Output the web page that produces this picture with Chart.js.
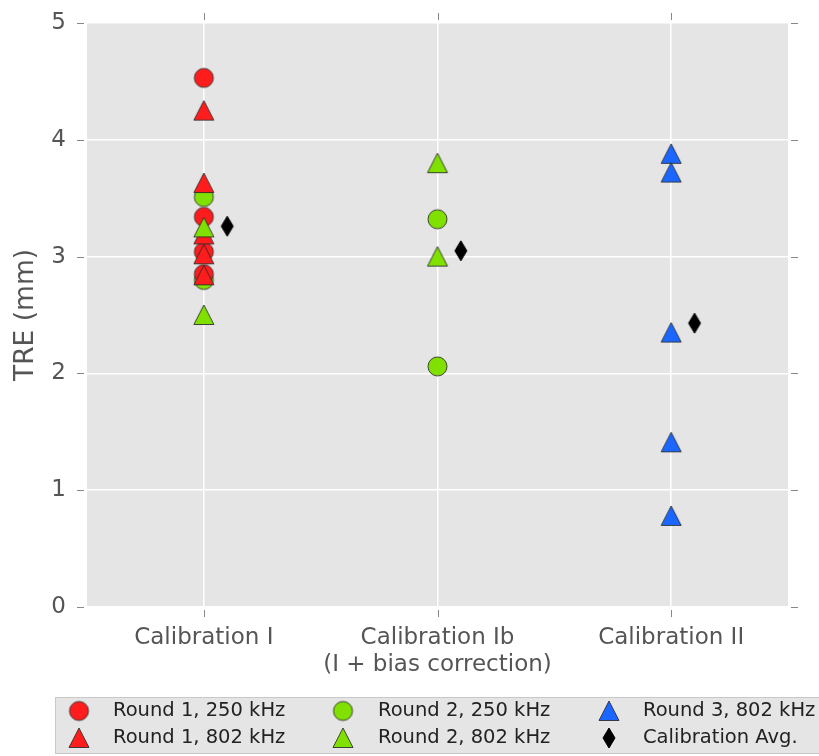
<!DOCTYPE html>
<html>
<head>
<meta charset="utf-8">
<script src="https://cdn.jsdelivr.net/npm/chart.js@4.4.0/dist/chart.umd.min.js"></script>
<style>
  html, body { margin: 0; padding: 0; background: #fff; }
</style>
</head>
<body>
<canvas id="myChart" width="819" height="756"></canvas>
<script>
// categories on the x axis (multi-line labels as arrays)
const categories = [['Calibration I'], ['Calibration Ib', '(I + bias correction)'], ['Calibration II']];
const yTicks = [0, 1, 2, 3, 4, 5];

// TRE values (mm), one list per category
const round1_250kHz = [[4.53, 3.34, 3.04, 2.85], [], []];
const round1_802kHz = [[4.25, 3.63, 3.19, 3.02, 2.84], [], []];
const round2_250kHz = [[3.51, 2.80], [3.32, 2.06], []];
const round2_802kHz = [[3.25, 2.50], [3.80, 3.00], []];
const round3_802kHz = [[], [], [3.88, 3.72, 2.35, 1.41, 0.78]];
const calibrationAvg = [3.26, 3.05, 2.43];

const avgShift = 0.1;

function toPoints(series, shift) {
  const pts = [];
  series.forEach((vals, i) => {
    [].concat(vals).forEach(v => pts.push({ x: i + (shift || 0), y: v }));
  });
  return pts;
}

// matplotlib-like markers drawn into small canvases
function makeMarker(shape, fill, size) {
  const c = document.createElement('canvas');
  const w = size + 4;
  c.width = w; c.height = w;
  const ctx = c.getContext('2d');
  const m = w / 2, r = size / 2;
  ctx.beginPath();
  if (shape === 'circle') {
    ctx.arc(m, m, r, 0, Math.PI * 2);
  } else if (shape === 'triangle') {
    ctx.moveTo(m, m - r); ctx.lineTo(m + r, m + r * 0.95); ctx.lineTo(m - r, m + r * 0.95); ctx.closePath();
  } else {
    ctx.moveTo(m, m - r); ctx.lineTo(m + r * 0.6, m); ctx.lineTo(m, m + r); ctx.lineTo(m - r * 0.6, m); ctx.closePath();
  }
  ctx.fillStyle = fill;
  ctx.fill();
  ctx.lineWidth = 1;
  ctx.strokeStyle = shape === 'diamond' ? '#000' : 'rgba(40,40,40,0.85)';
  ctx.stroke();
  return c;
}

const RED = '#fe1c1c', GREEN = '#80e000', BLUE = '#1a66ff';
const mk = {
  redCircle: makeMarker('circle', RED, 19),
  redTri: makeMarker('triangle', RED, 20),
  greenCircle: makeMarker('circle', GREEN, 19),
  greenTri: makeMarker('triangle', GREEN, 20),
  blueTri: makeMarker('triangle', BLUE, 20),
  diamond: makeMarker('diamond', '#000', 20)
};

const legendItems = [
  ['Round 1, 250 kHz', mk.redCircle], ['Round 2, 250 kHz', mk.greenCircle], ['Round 3, 802 kHz', mk.blueTri],
  ['Round 1, 802 kHz', mk.redTri], ['Round 2, 802 kHz', mk.greenTri], ['Calibration Avg.', mk.diamond]
];

const TICK_FONT = { family: 'DejaVu Sans', size: 23 };

const plotBg = {
  id: 'plotBg',
  beforeDraw(chart) {
    const { ctx, chartArea: a } = chart;
    ctx.save();
    ctx.fillStyle = '#e5e5e5';
    ctx.fillRect(a.left, a.top, a.right - a.left, a.bottom - a.top);
    ctx.restore();
  }
};

// small outward tick marks on all four sides, with a gap
const mplTicks = {
  id: 'mplTicks',
  afterDraw(chart) {
    const { ctx, chartArea: a, scales } = chart;
    ctx.save();
    ctx.strokeStyle = '#888';
    ctx.lineWidth = 1;
    ctx.beginPath();
    yTicks.forEach(v => {
      const y = Math.round(scales.y.getPixelForValue(v)) + 0.5;
      ctx.moveTo(a.left - 10, y); ctx.lineTo(a.left - 3, y);
      ctx.moveTo(a.right + 3, y); ctx.lineTo(a.right + 10, y);
    });
    categories.forEach((c, i) => {
      const x = Math.round(scales.x.getPixelForValue(i)) + 0.5;
      ctx.moveTo(x, a.top - 10); ctx.lineTo(x, a.top - 3);
      ctx.moveTo(x, a.bottom + 3); ctx.lineTo(x, a.bottom + 10);
    });
    ctx.stroke();
    ctx.restore();
  }
};

const boxLegend = {
  id: 'boxLegend',
  afterDraw(chart) {
    const ctx = chart.ctx;
    ctx.save();
    ctx.fillStyle = '#e5e5e5';
    ctx.strokeStyle = '#c8c8c8';
    ctx.lineWidth = 1;
    ctx.fillRect(55.5, 697.5, 800, 56);
    ctx.strokeRect(55.5, 697.5, 800, 56);
    const colMarker = [79, 343, 609], colText = [113, 378, 643], rowY = [711, 738];
    ctx.font = '19.5px "DejaVu Sans"';
    ctx.fillStyle = '#222';
    ctx.textBaseline = 'middle';
    legendItems.forEach((it, k) => {
      const col = k % 3, row = Math.floor(k / 3);
      const img = it[1];
      ctx.drawImage(img, colMarker[col] - img.width / 2, rowY[row] - img.height / 2);
      ctx.fillText(it[0], colText[col], rowY[row]);
    });
    ctx.restore();
  }
};

const ctx = document.getElementById('myChart').getContext('2d');
const chart = new Chart(ctx, {
  type: 'scatter',
  data: {
    datasets: [
      { label: 'Calibration Avg.', data: toPoints(calibrationAvg, avgShift), pointStyle: mk.diamond, order: 0 },
      { label: 'Round 2, 802 kHz', data: toPoints(round2_802kHz), pointStyle: mk.greenTri, order: 1 },
      { label: 'Round 1, 802 kHz', data: toPoints(round1_802kHz), pointStyle: mk.redTri, order: 2 },
      { label: 'Round 1, 250 kHz', data: toPoints(round1_250kHz), pointStyle: mk.redCircle, order: 3 },
      { label: 'Round 2, 250 kHz', data: toPoints(round2_250kHz), pointStyle: mk.greenCircle, order: 4 },
      { label: 'Round 3, 802 kHz', data: toPoints(round3_802kHz), pointStyle: mk.blueTri, order: 5 }
    ]
  },
  options: {
    responsive: false,
    animation: false,
    devicePixelRatio: 1,
    layout: { padding: { left: 0, top: 23, right: 31, bottom: 0 } },
    plugins: { legend: { display: false }, tooltip: { enabled: false } },
    elements: { point: { radius: 10, hoverRadius: 10 } },
    scales: {
      x: {
        type: 'linear',
        min: -0.5, max: 2.5,
        afterBuildTicks: s => { s.ticks = categories.map((c, i) => ({ value: i })); },
        afterFit: s => { s.height = 149; s.paddingLeft = 0; s.paddingRight = 0; },
        grid: { color: '#ffffff', lineWidth: 1.5, drawTicks: false },
        border: { display: false },
        ticks: {
          callback: v => categories[v],
          font: TICK_FONT, color: '#555', padding: 17, maxRotation: 0, autoSkip: false
        }
      },
      y: {
        min: 0, max: 5,
        afterBuildTicks: s => { s.ticks = yTicks.map(v => ({ value: v })); },
        afterFit: s => { s.width = 87; s.paddingTop = 0; s.paddingBottom = 0; },
        grid: { color: '#ffffff', lineWidth: 1.5, drawTicks: false },
        border: { display: false },
        ticks: { font: TICK_FONT, color: '#555', padding: 21 },
        title: {
          display: true, text: 'TRE (mm)', color: '#555',
          font: { family: 'DejaVu Sans', size: 26.5 },
          padding: { top: 10, bottom: 0 }
        }
      }
    }
  },
  plugins: [plotBg, mplTicks, boxLegend]
});
</script>
</body>
</html>
